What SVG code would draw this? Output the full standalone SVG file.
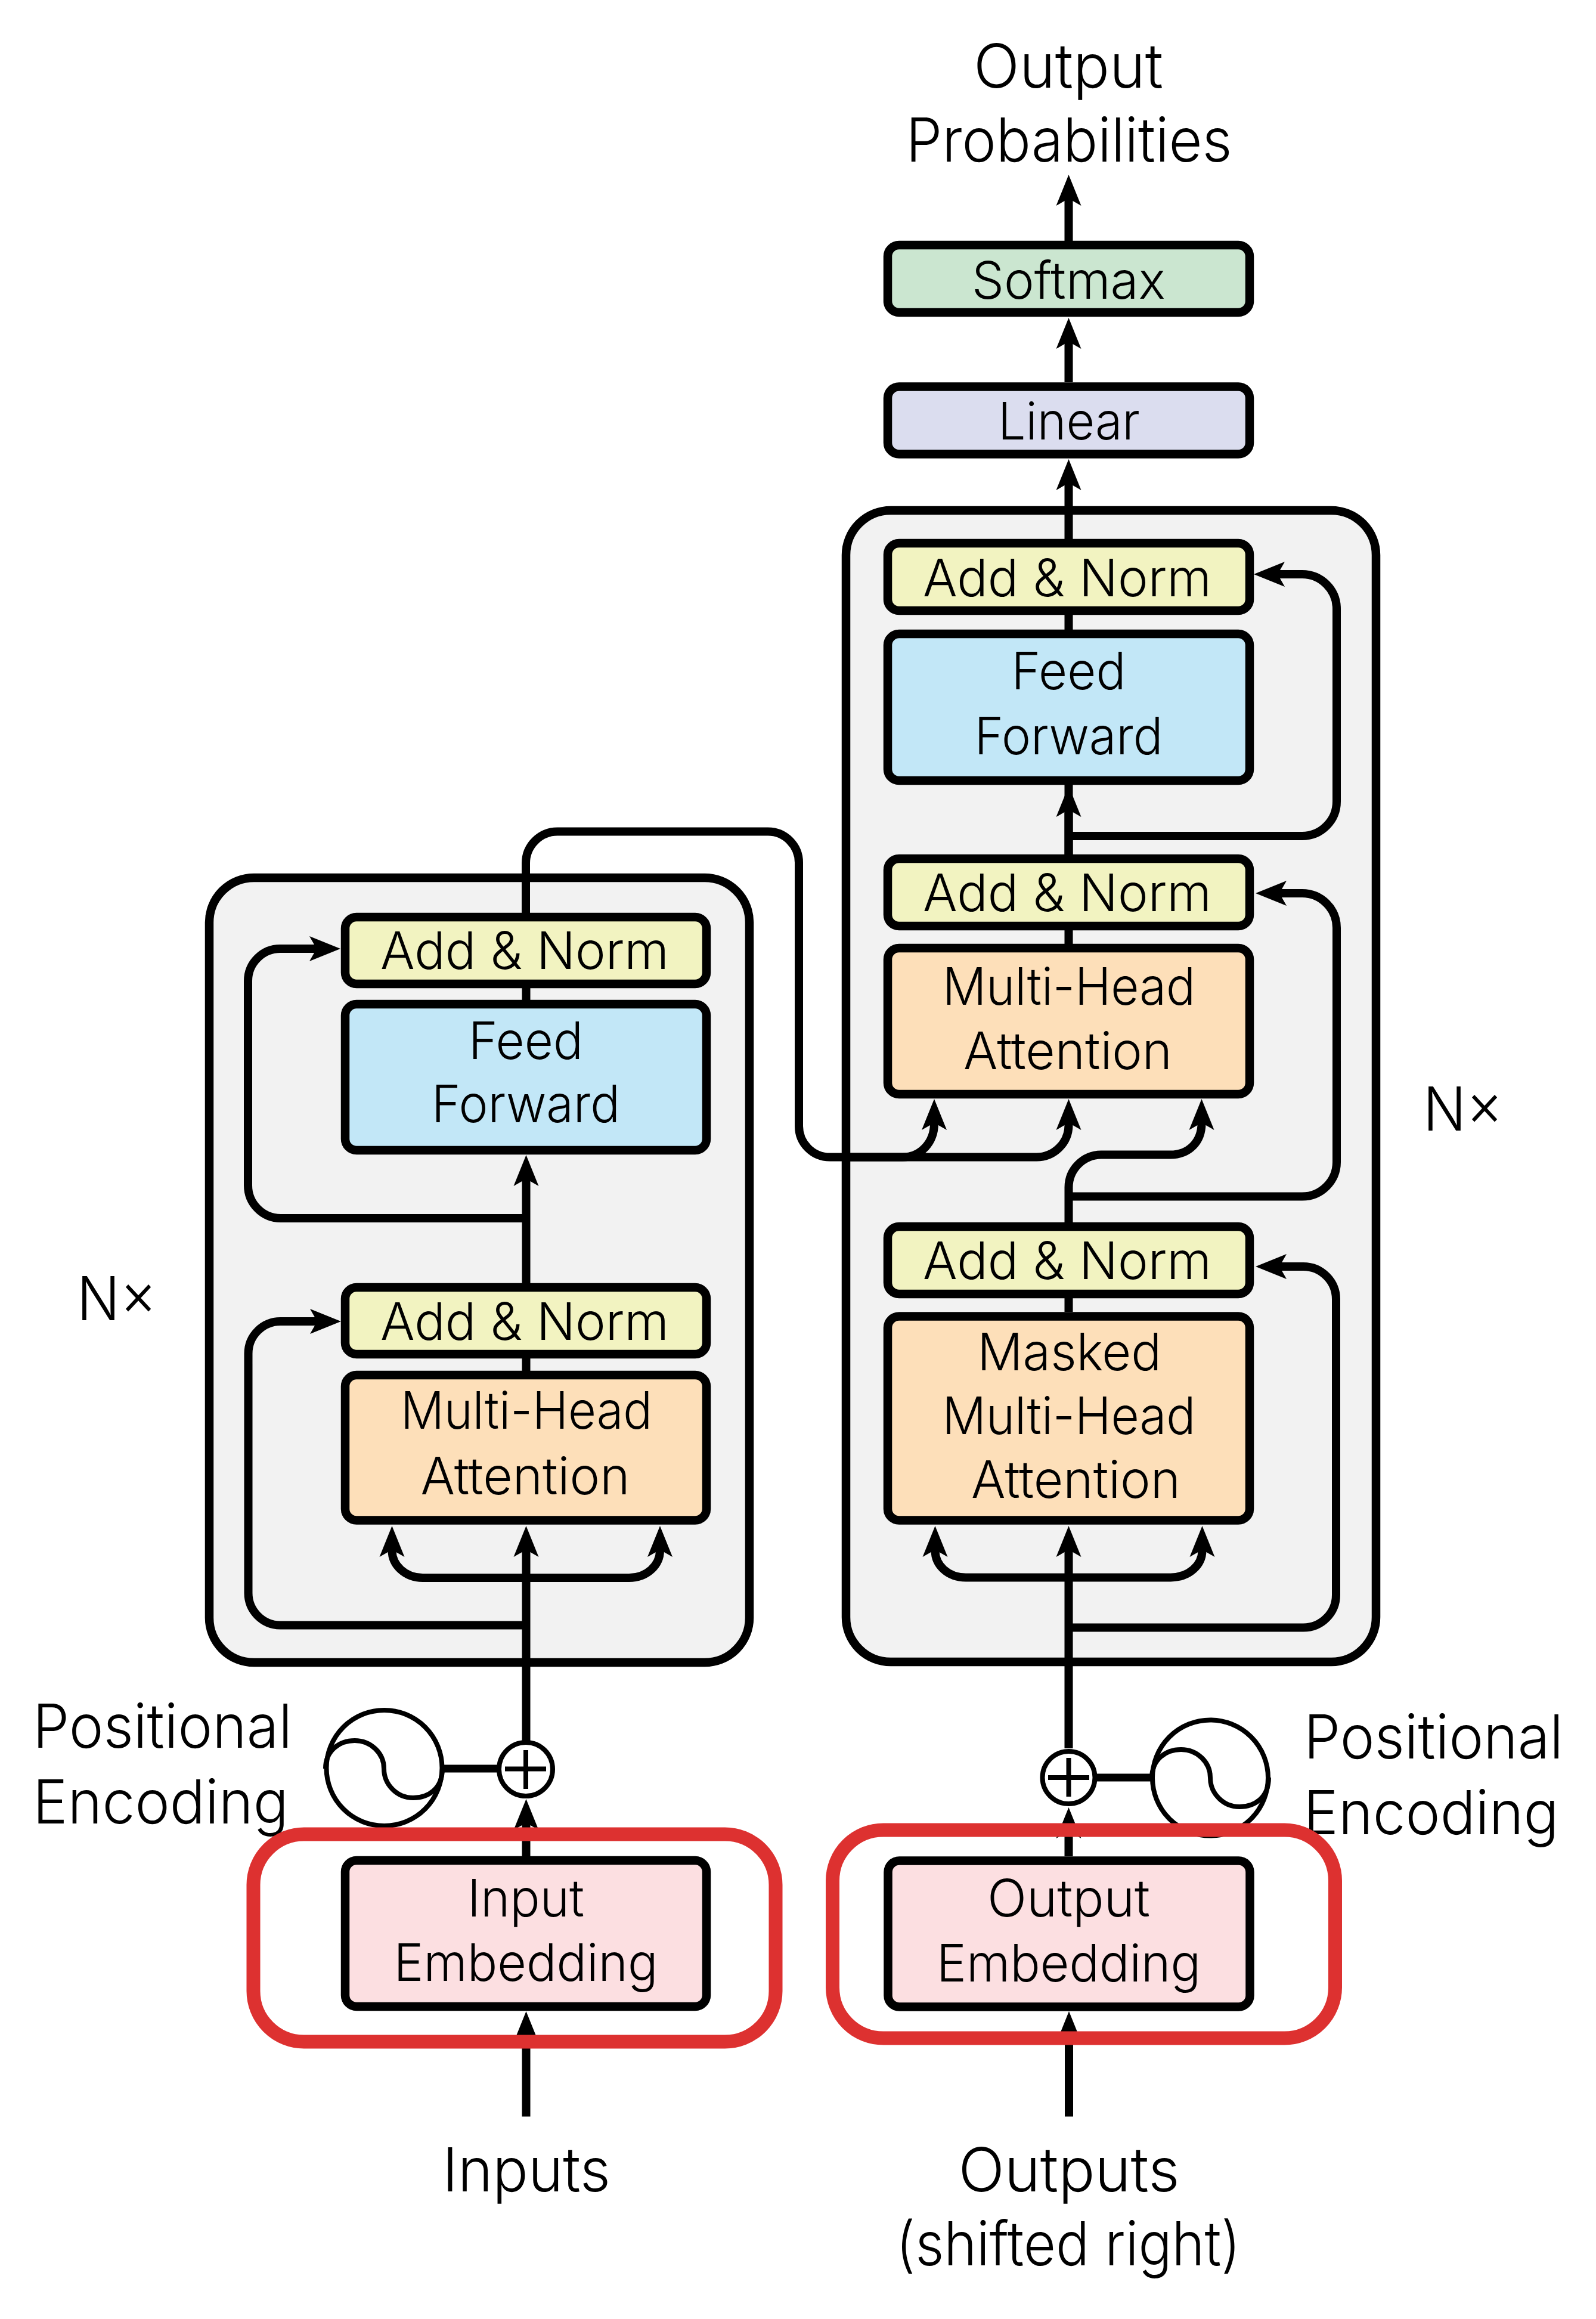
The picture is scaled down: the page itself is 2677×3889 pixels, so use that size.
<svg xmlns="http://www.w3.org/2000/svg" width="2677" height="3889" viewBox="0 0 2677 3889">
<style>
text{font-family:"Inter","Liberation Sans",sans-serif;font-weight:300;fill:#000;text-anchor:middle}
.b{font-size:87px}
.l{font-size:102px}
.box{stroke:#000;stroke-width:14.5}
.panel{fill:#f2f2f2;stroke:#000;stroke-width:14.5}
.c{fill:none;stroke:#000;stroke-width:14}
.a{marker-end:url(#ah)}
.an{fill:#f2f3c1}.ff{fill:#c2e7f7}.mh{fill:#fddfb9}.em{fill:#fcdfe1}.sm{fill:#cbe6d0}.li{fill:#dbddef}
.circ{fill:none;stroke:#000;stroke-width:8}
.red{fill:none;stroke:#dd3130;stroke-width:23}
</style>
<defs>
<marker id="ah" markerUnits="userSpaceOnUse" markerWidth="52" markerHeight="44" viewBox="0 -22 52 44" refX="12" refY="0" orient="auto"><path d="M52 0L0-21L12 0L0 21Z" fill="#000"/></marker>
</defs>
<rect width="2677" height="3889" fill="#fff"/>
<g id="encoder-panel"><rect class="panel" x="351" y="1472" width="906" height="1316" rx="75"/></g>
<g id="decoder-panel"><rect class="panel" x="1419" y="856" width="889" height="1931" rx="75"/></g>
<g id="connectors">
<path class="c a" d="M1792.5 404V333"/>
<path class="c a" d="M1792.5 641V573"/>
<path class="c a" d="M1792.5 904V810"/>
<path class="c" d="M1792.5 1433V1030"/>
<path class="c a" d="M1792.5 1433V1358"/>
<path class="c" d="M1792.5 1402H2184A58 58 0 0 0 2242 1344V1021A58 58 0 0 0 2184 963H2150"/>
<path class="c a" d="M2184 963H2143"/>
<path class="c" d="M1792.5 1583V1555"/>
<path class="c" d="M882 1531V1448A53 53 0 0 1 935 1394.6H1288A52 52 0 0 1 1340 1447V1888A52 52 0 0 0 1392 1940.6H1738A54 54 0 0 0 1792.5 1887V1884"/>
<path class="c a" d="M1792.5 1884V1883"/>
<path class="c a" d="M1420 1940.6H1514C1545 1940.6 1567 1915 1567 1884V1883"/>
<path class="c a" d="M1792.5 2050V1992A55 55 0 0 1 1847 1936.5H1963C1994 1936.5 2015.5 1915 2015.5 1884V1883"/>
<path class="c a" d="M1792.5 2006.6H2184A58 58 0 0 0 2242 1949V1556A58 58 0 0 0 2184 1498H2146"/>
<path class="c" d="M1792.5 2200V2170"/>
<path class="c a" d="M1792.5 2932V2599"/>
<path class="c a" d="M1792.5 2645.4H1620C1590 2645.4 1568.5 2625 1568.5 2600V2599"/>
<path class="c a" d="M1792.5 2645.4H1963.6C1994 2645.4 2016.5 2625 2016.5 2600V2599"/>
<path class="c a" d="M1792.5 2729.6H2186A55 55 0 0 0 2241 2674V2180A55 55 0 0 0 2186 2124H2146"/>
<path class="c a" d="M882.5 2152V1977"/>
<path class="c a" d="M882.5 2043H471A55 55 0 0 1 416 1988V1645A54 54 0 0 1 471 1591H531"/>
<path class="c" d="M882.5 1677V1650"/>
<path class="c" d="M882.5 2299V2270"/>
<path class="c a" d="M882.5 2919V2599"/>
<path class="c a" d="M882.5 2646H709C680 2646 657.5 2625 657.5 2600V2599"/>
<path class="c a" d="M882.5 2646H1055C1085 2646 1107 2625 1107 2600V2599"/>
<path class="c a" d="M882.5 2725.5H470A54 54 0 0 1 416.5 2671V2270A54 54 0 0 1 471 2216H532"/>
<path class="c a" d="M882.5 3113V3057"/>
<path class="c a" d="M1792.5 3113V3071"/>
<path class="c a" d="M882.5 3549.5V3413"/>
<path class="c a" d="M1793 3549.5V3413"/>
<path class="c" style="stroke-width:13" d="M745 2966H835"/>
<path class="c" style="stroke-width:13" d="M1838 2981H1931"/>
</g>
<g id="softmax"><rect class="box sm" x="1489" y="411" width="607" height="113" rx="19"/><text class="b" x="1792.5" y="500.6" textLength="325" lengthAdjust="spacingAndGlyphs">Softmax</text></g>
<g id="linear"><rect class="box li" x="1489" y="648.5" width="607" height="113" rx="19"/><text class="b" x="1793" y="736.6" textLength="238" lengthAdjust="spacingAndGlyphs">Linear</text></g>
<g id="dec-addnorm-3"><rect class="box an" x="1489" y="911" width="607" height="113" rx="19"/><text class="b" x="1790" y="1000" textLength="484" lengthAdjust="spacingAndGlyphs">Add &amp; Norm</text></g>
<g id="dec-feedforward"><rect class="box ff" x="1489" y="1063" width="607" height="246" rx="19"/><text class="b" x="1792.5" y="1156" textLength="192" lengthAdjust="spacingAndGlyphs">Feed</text><text class="b" x="1792.5" y="1265" textLength="316" lengthAdjust="spacingAndGlyphs">Forward</text></g>
<g id="dec-addnorm-2"><rect class="box an" x="1489" y="1440" width="607" height="113" rx="19"/><text class="b" x="1790" y="1528" textLength="484" lengthAdjust="spacingAndGlyphs">Add &amp; Norm</text></g>
<g id="dec-attention"><rect class="box mh" x="1489" y="1590" width="607" height="245" rx="19"/><text class="b" x="1793" y="1684.6" textLength="424" lengthAdjust="spacingAndGlyphs">Multi-Head</text><text class="b" x="1791" y="1793" textLength="350" lengthAdjust="spacingAndGlyphs">Attention</text></g>
<g id="dec-addnorm-1"><rect class="box an" x="1489" y="2057" width="607" height="113" rx="19"/><text class="b" x="1790" y="2145" textLength="484" lengthAdjust="spacingAndGlyphs">Add &amp; Norm</text></g>
<g id="dec-masked-attention"><rect class="box mh" x="1489" y="2207.5" width="607" height="342" rx="19"/><text class="b" x="1793.8" y="2297.5" textLength="309" lengthAdjust="spacingAndGlyphs">Masked</text><text class="b" x="1793" y="2405" textLength="425" lengthAdjust="spacingAndGlyphs">Multi-Head</text><text class="b" x="1804.6" y="2511.5" textLength="351" lengthAdjust="spacingAndGlyphs">Attention</text></g>
<g id="enc-addnorm-2"><rect class="box an" x="579" y="1538" width="606" height="112" rx="19"/><text class="b" x="880" y="1624.5" textLength="484" lengthAdjust="spacingAndGlyphs">Add &amp; Norm</text></g>
<g id="enc-feedforward"><rect class="box ff" x="579" y="1684" width="606" height="245" rx="19"/><text class="b" x="882" y="1776" textLength="192" lengthAdjust="spacingAndGlyphs">Feed</text><text class="b" x="882" y="1882" textLength="316" lengthAdjust="spacingAndGlyphs">Forward</text></g>
<g id="enc-addnorm-1"><rect class="box an" x="579" y="2159" width="606" height="112" rx="19"/><text class="b" x="880" y="2246.5" textLength="484" lengthAdjust="spacingAndGlyphs">Add &amp; Norm</text></g>
<g id="enc-attention"><rect class="box mh" x="579" y="2306" width="606" height="243.5" rx="19"/><text class="b" x="883" y="2396" textLength="422" lengthAdjust="spacingAndGlyphs">Multi-Head</text><text class="b" x="881" y="2506" textLength="351" lengthAdjust="spacingAndGlyphs">Attention</text></g>
<g id="enc-pos"><circle class="circ" cx="644.5" cy="2965" r="97"/><path class="circ" d="M546 2966C546 2935 570 2919 595 2919C622 2919 644 2940 644 2966C644 2993 666 3015 693 3015C718 3015 742 3000 742 2966"/></g>
<g id="enc-plus"><circle cx="882" cy="2967" r="45" fill="#fff" stroke="#000" stroke-width="8"/><path class="circ" d="M847 2966.6H916M882 2935V3000"/></g>
<g id="dec-plus"><circle cx="1792.5" cy="2981" r="44" fill="#fff" stroke="#000" stroke-width="8"/><path class="circ" d="M1758 2981H1827M1792.5 2948V3013"/></g>
<g id="dec-pos"><circle class="circ" cx="2030" cy="2981.5" r="97"/><path class="circ" d="M1932 2982C1932 2951 1955 2934 1981 2934C2008 2934 2030 2955 2030 2981C2030 3008 2052 3030 2079 3030C2104 3030 2128 3015 2128 2981"/></g>
<g id="input-embedding"><rect class="box em" x="579" y="3120" width="606" height="245" rx="19"/><text class="b" x="882" y="3214" textLength="196" lengthAdjust="spacingAndGlyphs">Input</text><text class="b" x="882" y="3322" textLength="443" lengthAdjust="spacingAndGlyphs">Embedding</text></g>
<g id="output-embedding"><rect class="box em" x="1489.5" y="3120.5" width="607" height="245" rx="19"/><text class="b" x="1792.5" y="3214" textLength="273" lengthAdjust="spacingAndGlyphs">Output</text><text class="b" x="1792.5" y="3323" textLength="443" lengthAdjust="spacingAndGlyphs">Embedding</text></g>
<g id="labels">
<text class="l" x="1792" y="147" textLength="318" lengthAdjust="spacingAndGlyphs">Output</text>
<text class="l" x="1793" y="271" textLength="547" lengthAdjust="spacingAndGlyphs">Probabilities</text>
<text class="l" x="196" y="2214" textLength="134" lengthAdjust="spacingAndGlyphs">N×</text>
<text class="l" x="2454" y="1896" textLength="134" lengthAdjust="spacingAndGlyphs">N×</text>
<text class="l" x="272.5" y="2931" textLength="435" lengthAdjust="spacingAndGlyphs">Positional</text>
<text class="l" x="269.5" y="3058" textLength="429" lengthAdjust="spacingAndGlyphs">Encoding</text>
<text class="l" x="2404.5" y="2949" textLength="435" lengthAdjust="spacingAndGlyphs">Positional</text>
<text class="l" x="2400.5" y="3075.5" textLength="428" lengthAdjust="spacingAndGlyphs">Encoding</text>
<text class="l" x="883" y="3674.5" textLength="282" lengthAdjust="spacingAndGlyphs">Inputs</text>
<text class="l" x="1793" y="3674.7" textLength="371" lengthAdjust="spacingAndGlyphs">Outputs</text>
<text class="l" x="1791.7" y="3799.4" textLength="578" lengthAdjust="spacingAndGlyphs">(shifted right)</text>
</g>
<g id="highlights">
<rect class="red" x="425" y="3076" width="876" height="348" rx="85"/>
<rect class="red" x="1396.5" y="3069" width="843" height="349" rx="85"/>
</g>
</svg>
